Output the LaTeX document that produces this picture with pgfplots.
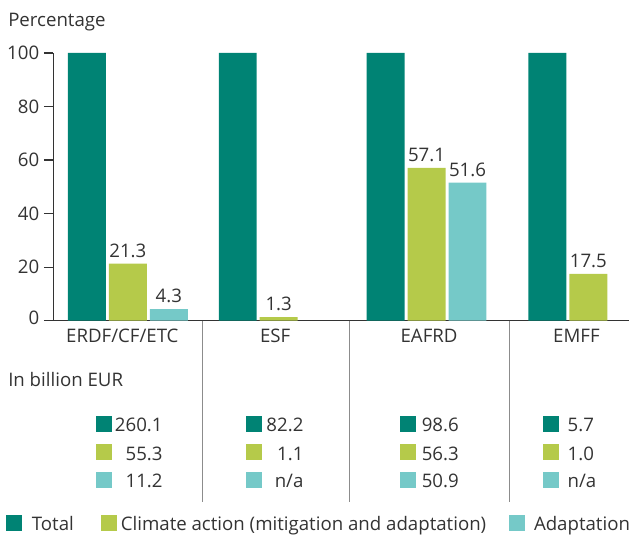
\documentclass[border=0pt]{standalone}
\usepackage{fontspec}
\setmainfont{Open Sans}
\usepackage{pgfplots}
\pgfplotsset{compat=1.18}
\definecolor{tot}{RGB}{0,131,116}
\definecolor{cli}{RGB}{181,202,74}
\definecolor{ada}{RGB}{117,201,200}
\definecolor{txt}{RGB}{51,51,51}
\definecolor{sepc}{RGB}{140,140,140}
\newcommand\F{\fontsize{14}{16}\selectfont}
\begin{document}
\begin{tikzpicture}
\begin{axis}[
  scale only axis,
  width=432.5pt, height=201pt,
  xmin=53.3, xmax=630, ymin=0, ymax=100,
  axis lines*=left,
  xtick=\empty,
  ytick={0,20,40,60,80,100},
  yticklabels={{\raisebox{4.5pt}{0}},20,40,60,80,100},
  tick align=outside,
  major tick length=7pt,
  y tick label style={font=\F, color=txt},
  /pgf/number format/assume math mode=true,
  axis line style={color=txt, line width=0.9pt},
  every tick/.style={color=txt, line width=0.9pt},
  ybar, bar width=38,
  clip=false,
  nodes near coords,
  /pgf/number format/.cd, fixed, fixed zerofill, precision=1,
  /pgfplots/.cd,
  every node near coord/.append style={font=\F, color=txt, inner sep=0pt, yshift=4.5pt},
]
% Total
\addplot[fill=tot, draw=none, bar shift=-41, nodes near coords=\empty] coordinates {(128,100) (279,100) (427,100) (589,100)};
% Climate action
\addplot[fill=cli, draw=none, bar shift=0] coordinates {(128,21.3) (279,1.3) (427,57.1) (589,17.5)};
% Adaptation
\addplot[fill=ada, draw=none, bar shift=41] coordinates {(128,4.3) (427,51.6)};

% title
\node[anchor=base west, inner sep=0pt, font=\F, color=txt] at (axis cs:8,109.8) {Percentage};
% category labels
\node[anchor=base, inner sep=0pt, font=\F, color=txt] at (axis cs:122.5,-8.2) {ERDF/CF/ETC};
\node[anchor=base, inner sep=0pt, font=\F, color=txt] at (axis cs:275.5,-8.2) {ESF};
\node[anchor=base, inner sep=0pt, font=\F, color=txt] at (axis cs:429.5,-8.2) {EAFRD};
\node[anchor=base, inner sep=0pt, font=\F, color=txt] at (axis cs:577,-8.2) {EMFF};
% separators
\draw[sepc, line width=0.9pt] (axis cs:202.5,0) -- (axis cs:202.5,-67.9);
\draw[sepc, line width=0.9pt] (axis cs:350,0) -- (axis cs:350,-67.9);
\draw[sepc, line width=0.9pt] (axis cs:510,0) -- (axis cs:510,-67.9);
% In billion EUR
\node[anchor=base west, inner sep=0pt, font=\F, color=txt] at (axis cs:8,-24.6) {In billion EUR};
% table squares
\fill[tot] (axis cs:96,-41.53) rectangle (axis cs:112,-35.56);
\fill[cli] (axis cs:96,-52.05) rectangle (axis cs:112,-46.08);
\fill[ada] (axis cs:96,-62.31) rectangle (axis cs:112,-56.34);
\fill[tot] (axis cs:246,-41.53) rectangle (axis cs:262,-35.56);
\fill[cli] (axis cs:246,-52.05) rectangle (axis cs:262,-46.08);
\fill[ada] (axis cs:246,-62.31) rectangle (axis cs:262,-56.34);
\fill[tot] (axis cs:400,-41.53) rectangle (axis cs:416,-35.56);
\fill[cli] (axis cs:400,-52.05) rectangle (axis cs:416,-46.08);
\fill[ada] (axis cs:400,-62.31) rectangle (axis cs:416,-56.34);
\fill[tot] (axis cs:544,-41.53) rectangle (axis cs:560,-35.56);
\fill[cli] (axis cs:544,-52.05) rectangle (axis cs:560,-46.08);
\fill[ada] (axis cs:544,-62.31) rectangle (axis cs:560,-56.34);
% table values
\node[anchor=base east, inner sep=0pt, font=\F, color=txt] at (axis cs:163,-41.53) {260.1};
\node[anchor=base east, inner sep=0pt, font=\F, color=txt] at (axis cs:163,-52.05) {55.3};
\node[anchor=base east, inner sep=0pt, font=\F, color=txt] at (axis cs:163,-62.31) {11.2};
\node[anchor=base east, inner sep=0pt, font=\F, color=txt] at (axis cs:304,-41.53) {82.2};
\node[anchor=base east, inner sep=0pt, font=\F, color=txt] at (axis cs:304,-52.05) {1.1};
\node[anchor=base east, inner sep=0pt, font=\F, color=txt] at (axis cs:304,-62.31) {n/a};
\node[anchor=base west, inner sep=0pt, font=\F, color=txt] at (axis cs:422,-41.53) {98.6};
\node[anchor=base west, inner sep=0pt, font=\F, color=txt] at (axis cs:422,-52.05) {56.3};
\node[anchor=base west, inner sep=0pt, font=\F, color=txt] at (axis cs:422,-62.31) {50.9};
\node[anchor=base west, inner sep=0pt, font=\F, color=txt] at (axis cs:568,-41.53) {5.7};
\node[anchor=base west, inner sep=0pt, font=\F, color=txt] at (axis cs:568,-52.05) {1.0};
\node[anchor=base west, inner sep=0pt, font=\F, color=txt] at (axis cs:568,-62.31) {n/a};
% legend
\fill[tot] (axis cs:6,-78.4) rectangle (axis cs:22,-72.43);
\node[anchor=base west, inner sep=0pt, font=\F, color=txt] at (axis cs:31.7,-78.5) {Total};
\fill[cli] (axis cs:101,-78.4) rectangle (axis cs:117,-72.43);
\node[anchor=base west, inner sep=0pt, font=\F, color=txt] at (axis cs:120.7,-78.5) {Climate action (mitigation and adaptation)};
\fill[ada] (axis cs:510,-78.4) rectangle (axis cs:526,-72.43);
\node[anchor=base west, inner sep=0pt, font=\F, color=txt] at (axis cs:534.3,-78.5) {Adaptation};
% bounding box
\path (axis cs:0,-79.85) rectangle (axis cs:630,119.78);
\end{axis}
\end{tikzpicture}
\end{document}
